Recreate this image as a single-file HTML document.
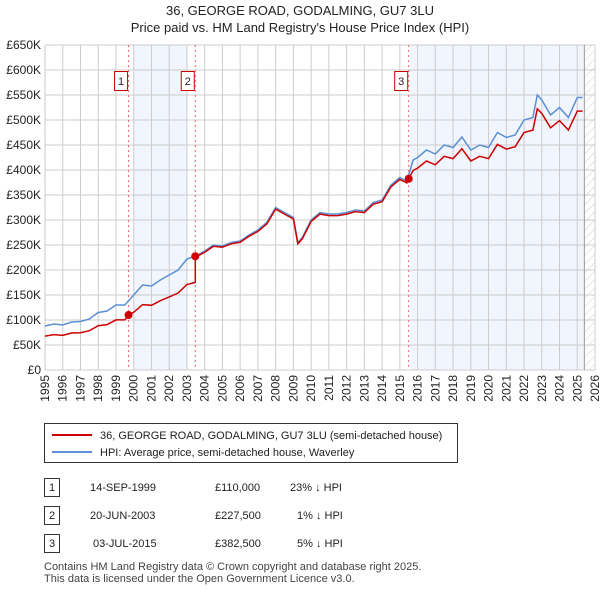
<!DOCTYPE html>
<html><head><meta charset="utf-8"><style>
body{margin:0;background:#fff;font-family:"Liberation Sans",sans-serif;}
svg text{font-family:"Liberation Sans",sans-serif;}
</style></head><body>
<svg id="c" width="600" height="590" xmlns="http://www.w3.org/2000/svg">
<text x="300" y="15" text-anchor="middle" font-size="13" fill="#222">36, GEORGE ROAD, GODALMING, GU7 3LU</text>
<text x="300" y="32" text-anchor="middle" font-size="13" fill="#222">Price paid vs. HM Land Registry's House Price Index (HPI)</text>
<defs><pattern id="hatch" width="6" height="6" patternUnits="userSpaceOnUse" patternTransform="rotate(45)"><line x1="0" y1="0" x2="0" y2="6" stroke="#ccc" stroke-width="1"/></pattern></defs>
<g id="plot"></g>
<g>
<rect x="44.5" y="423.5" width="413" height="39" fill="#fff" stroke="#333"/>
<line x1="52" y1="435" x2="92" y2="435" stroke="#cc0000" stroke-width="2"/>
<text x="100" y="439" font-size="11" fill="#222">36, GEORGE ROAD, GODALMING, GU7 3LU (semi-detached house)</text>
<line x1="52" y1="452" x2="92" y2="452" stroke="#5b8fd4" stroke-width="2"/>
<text x="100" y="456" font-size="11" fill="#222">HPI: Average price, semi-detached house, Waverley</text>
</g>
<g font-size="11" fill="#222">
<rect x="44.5" y="478.5" width="15" height="18" fill="#fff" stroke="#333"/><text x="52" y="491" text-anchor="middle">1</text>
<text x="90" y="491">14-SEP-1999</text><text x="215" y="491">£110,000</text><text x="290" y="491">23% ↓ HPI</text>
<rect x="44.5" y="506.5" width="15" height="18" fill="#fff" stroke="#333"/><text x="52" y="519" text-anchor="middle">2</text>
<text x="90" y="519">20-JUN-2003</text><text x="215" y="519">£227,500</text><text x="297" y="519">1% ↓ HPI</text>
<rect x="44.5" y="534.5" width="15" height="18" fill="#fff" stroke="#333"/><text x="52" y="547" text-anchor="middle">3</text>
<text x="93" y="547">03-JUL-2015</text><text x="215" y="547">£382,500</text><text x="297" y="547">5% ↓ HPI</text>
</g>
<text x="44" y="570" font-size="11" fill="#444">Contains HM Land Registry data © Crown copyright and database right 2025.</text>
<text x="44" y="582" font-size="11" fill="#444">This data is licensed under the Open Government Licence v3.0.</text>
</svg>
<script>
const hpiYears=[1995,1995.5,1996,1996.5,1997,1997.5,1998,1998.5,1999,1999.5,2000,2000.5,2001,2001.5,2002,2002.5,2003,2003.5,2004,2004.5,2005,2005.5,2006,2006.5,2007,2007.5,2008,2008.5,2009,2009.25,2009.5,2010,2010.5,2011,2011.5,2012,2012.5,2013,2013.5,2014,2014.5,2015,2015.4,2015.75,2016,2016.5,2017,2017.5,2018,2018.5,2019,2019.5,2020,2020.5,2021,2021.5,2022,2022.5,2022.75,2023,2023.5,2024,2024.5,2025,2025.3];
const hpiValues=[88,92,90,96,97,102,115,118,130,130,150,170,168,180,190,200,222,228,238,250,248,255,258,270,280,295,325,315,305,255,265,300,315,312,312,315,320,318,335,340,370,385,378,420,425,440,432,450,445,466,440,450,445,475,465,470,500,505,550,540,510,525,505,545,545];
const saleDates=[1999.71,2003.47,2015.5];
const salePrices=[110,227.5,382.5];
const pctBelowHpi=[23,1,5];
const saleLabels=["1","2","3"];
const yTicks=[0,50,100,150,200,250,300,350,400,450,500,550,600,650];
const xTicks=[1995,1996,1997,1998,1999,2000,2001,2002,2003,2004,2005,2006,2007,2008,2009,2010,2011,2012,2013,2014,2015,2016,2017,2018,2019,2020,2021,2022,2023,2024,2025,2026];
const X0=45,X1=595,Y0=370,Y1=45;
const xs=t=>X0+(t-1995)/(2026-1995)*(X1-X0);
const ys=v=>Y0-v/650*(Y0-Y1);
const NS="http://www.w3.org/2000/svg";
const g=document.getElementById('plot');
function mk(tag,at){const e=document.createElementNS(NS,tag);for(const k in at)e.setAttribute(k,at[k]);g.appendChild(e);return e;}
function hpiAt(t){for(let i=0;i<hpiYears.length-1;i++){if(t<=hpiYears[i+1]){const f=(t-hpiYears[i])/(hpiYears[i+1]-hpiYears[i]);return hpiValues[i]+f*(hpiValues[i+1]-hpiValues[i]);}}return hpiValues[hpiValues.length-1];}
let r=mk('rect',{x:xs(2000),y:Y1,width:xs(2003)-xs(2000),height:Y0-Y1,fill:'#eef3fc',opacity:0.8});


r=mk('rect',{x:xs(2015.6),y:Y1,width:xs(2025.4)-xs(2015.6),height:Y0-Y1,fill:'#eef3fc',opacity:0.8});


r=mk('rect',{x:xs(2025.4),y:Y1,width:X1-xs(2025.4),height:Y0-Y1,fill:'url(#hatch)'});


yTicks.forEach(v=>{const l=mk('line',{x1:X0,x2:X1,y1:ys(v),y2:ys(v),stroke:'#ccc'});


const t=mk('text',{x:X0-4,y:ys(v)+4,'text-anchor':'end','font-size':12,fill:'#222'});t.textContent=v===0?'£0':'£'+v+'K';

});
xTicks.forEach(y=>{const l=mk('line',{x1:xs(y),x2:xs(y),y1:Y1,y2:Y0,stroke:'#ccc'});


const t=mk('text',{x:0,y:0,'text-anchor':'end','font-size':12,fill:'#222',transform:`translate(${xs(y)+4},${Y0+5}) rotate(-90)`});t.textContent=y;

});
const vl=mk('line',{x1:xs(2025.4),x2:xs(2025.4),y1:Y1,y2:Y0,stroke:'#999'});


saleDates.forEach((d,i)=>{const l=mk('line',{x1:xs(d),x2:xs(d),y1:Y1,y2:Y0,stroke:'#f06060','stroke-dasharray':'2,3'});


const b=mk('rect',{x:xs(d)-14,y:71.5,width:13,height:19,fill:'#fff',stroke:'#cc0000'});


const t=mk('text',{x:xs(d)-7.5,y:85,'text-anchor':'middle','font-size':11,fill:'#222'});t.textContent=saleLabels[i];

});
let p='';hpiYears.forEach((t,i)=>{p+=(i?'L':'M')+xs(t).toFixed(1)+','+ys(hpiValues[i]).toFixed(1);});
const hl=mk('path',{d:p,fill:'none',stroke:'#5b8fd4','stroke-width':1.5});


const pts=[];
hpiYears.forEach(t=>{let k=0;for(let i=0;i<saleDates.length;i++)if(t>=saleDates[i])k=i;
pts.push([t,hpiAt(t)*(1-pctBelowHpi[k]/100)]);});
saleDates.forEach((d,i)=>{if(i>0)pts.push([d-0.001,hpiAt(d)*(1-pctBelowHpi[i-1]/100)]);pts.push([d,salePrices[i]]);});
pts.sort((a,b)=>a[0]-b[0]);
let q='';pts.forEach((pt,i)=>{q+=(i?'L':'M')+xs(pt[0]).toFixed(1)+','+ys(pt[1]).toFixed(1);});
const pl=mk('path',{d:q,fill:'none',stroke:'#cc0000','stroke-width':1.5});


saleDates.forEach((d,i)=>{const c=mk('circle',{cx:xs(d),cy:ys(salePrices[i]),r:4,fill:'#cc0000'});

});
</script>
</body></html>
